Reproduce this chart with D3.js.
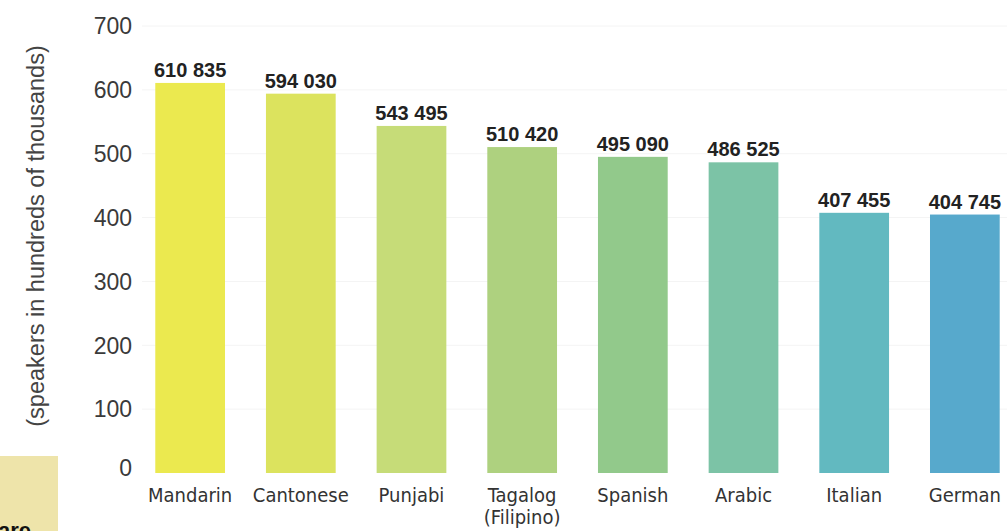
<!DOCTYPE html>
<html><head><meta charset="utf-8">
<script src="https://cdn.jsdelivr.net/npm/d3@7"></script>
<style>
body{margin:0;background:#fff;}
svg{display:block;}
</style></head>
<body>
<svg id="c" width="1007" height="531"></svg>
<script>
const categories = ["Mandarin","Cantonese","Punjabi","Tagalog\n(Filipino)","Spanish","Arabic","Italian","German"];
const speakers = [610835, 594030, 543495, 510420, 495090, 486525, 407455, 404745];
const barColors = ["#ebe94f","#dce35e","#c6dc78","#aed17f","#92c98b","#7cc3a6","#62b9c0","#57a9cc"];
const yTicks = [0,100,200,300,400,500,600,700];
const yTitle = "(speakers in hundreds of thousands)";

const svg = d3.select("#c");
const condensed = "'Liberation Sans Narrow','DejaVu Sans Condensed',Roboto,sans-serif";
const sans = "'Liberation Sans',Arial,sans-serif";

// side panel fragment
svg.append("rect").attr("x",0).attr("y",456).attr("width",58).attr("height",80).attr("fill","#eee4aa");
svg.append("text").attr("x",-2).attr("y",538).attr("font-family",sans)
  .attr("font-weight","bold").attr("font-size",22).attr("fill","#111").text("are");

const x = d3.scaleBand().domain(categories).range([142,1013]).paddingInner(0.37).paddingOuter(0.12);
const y = d3.scaleLinear().domain([0,700]).range([473,26]);

// faint gridlines
svg.append("g").selectAll("line").data(yTicks.slice(1)).join("line")
  .attr("x1",142).attr("x2",1007).attr("y1",d=>y(d)).attr("y2",d=>y(d))
  .attr("stroke","#f4f4f4").attr("stroke-width",1);

// axis
const ax = svg.append("g").attr("transform","translate(132,0)")
  .call(d3.axisLeft(y).tickValues(yTicks).tickSize(0).tickPadding(0));
ax.select(".domain").remove();
ax.selectAll("text").attr("font-family",sans).attr("font-size",23)
  .attr("fill","#3a3a3a").attr("dy","0.34em");
ax.selectAll(".tick").filter(d=>d===0).select("text").attr("dy","0.12em");

svg.append("text").attr("transform","translate(44,236) rotate(-90)")
  .attr("text-anchor","middle").attr("font-family",sans)
  .attr("font-size",23.5).attr("fill","#444").text(yTitle);

const data = categories.map((c,i)=>({c, v:speakers[i], col:barColors[i]}));

svg.append("g").selectAll("rect").data(data).join("rect")
  .attr("x",d=>x(d.c)).attr("width",x.bandwidth())
  .attr("y",d=>y(d.v/1000)).attr("height",d=>y(0)-y(d.v/1000))
  .attr("fill",d=>d.col);

const fmt = v => String(v).replace(/(\d{3})$/," $1");
svg.append("g").selectAll("text").data(data).join("text")
  .attr("x",d=>x(d.c)+x.bandwidth()/2).attr("y",d=>y(d.v/1000)-6)
  .attr("text-anchor","middle").attr("font-family",sans)
  .attr("font-weight","bold").attr("font-size",20).attr("fill","#222")
  .text(d=>fmt(d.v));

const lab = svg.append("g").selectAll("text").data(data).join("text")
  .attr("x",d=>x(d.c)+x.bandwidth()/2).attr("y",502)
  .attr("text-anchor","middle").attr("font-family",condensed)
  .attr("font-size",20).attr("fill","#333");
lab.each(function(d){
  const parts = d.c.split("\n");
  d3.select(this).selectAll("tspan").data(parts).join("tspan")
    .attr("x",x(d.c)+x.bandwidth()/2).attr("dy",(p,i)=>i===0?0:"1.1em").text(p=>p);
});
</script>
</body></html>
